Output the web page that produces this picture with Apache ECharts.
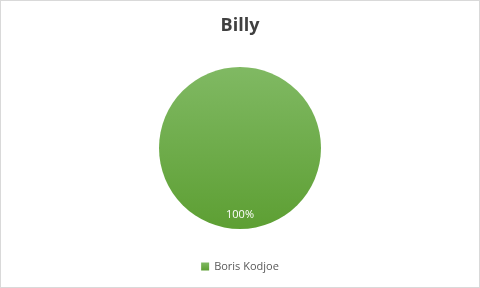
<!DOCTYPE html>
<html>
<head>
<meta charset="utf-8">
<script src="https://cdn.jsdelivr.net/npm/echarts@6/dist/echarts.min.js"></script>
<style>
html,body{margin:0;padding:0;background:#fff;}
#c{width:478px;height:286px;border:1px solid #d9d9d9;}
</style>
</head>
<body>
<div id="c"></div>
<script>
const title = 'Billy';
const categories = ['Boris Kodjoe'];
const values = [1];

const chart = echarts.init(document.getElementById('c'), null, {renderer: 'canvas'});
const grad = new echarts.graphic.LinearGradient(0, 0, 0, 1, [
  {offset: 0, color: '#80b963'},
  {offset: 1, color: '#5d9f33'}
]);
chart.setOption({
  animation: false,
  title: {
    text: title, left: 'center', top: 11,
    textStyle: {fontFamily: 'Open Sans', fontWeight: 'bold', fontSize: 18, color: '#404040'}
  },
  legend: {
    data: categories, bottom: 10, left: 'center',
    itemWidth: 8, itemHeight: 8, icon: 'rect', itemGap: 10,
    textStyle: {fontFamily: 'Open Sans', fontSize: 11, color: '#595959'}
  },
  series: [{
    type: 'pie',
    center: [239, 147],
    radius: [0, 81],
    startAngle: 90,
    data: categories.map((c, i) => ({name: c, value: values[i], itemStyle: {color: grad}})),
    label: {show: false},
    labelLine: {show: false},
    emphasis: {disabled: true}
  }, {
    type: 'pie',
    center: [239, 147],
    radius: [47, 81],
    startAngle: 90,
    silent: true,
    data: categories.map((c, i) => ({name: c, value: values[i], itemStyle: {color: 'rgba(0,0,0,0)'}})),
    label: {
      show: true, position: 'inside',
      formatter: p => Math.round(p.percent) + '%',
      color: '#ffffff', fontFamily: 'Open Sans', fontSize: 11
    },
    labelLine: {show: false},
    emphasis: {disabled: true}
  }]
});
</script>
</body>
</html>
